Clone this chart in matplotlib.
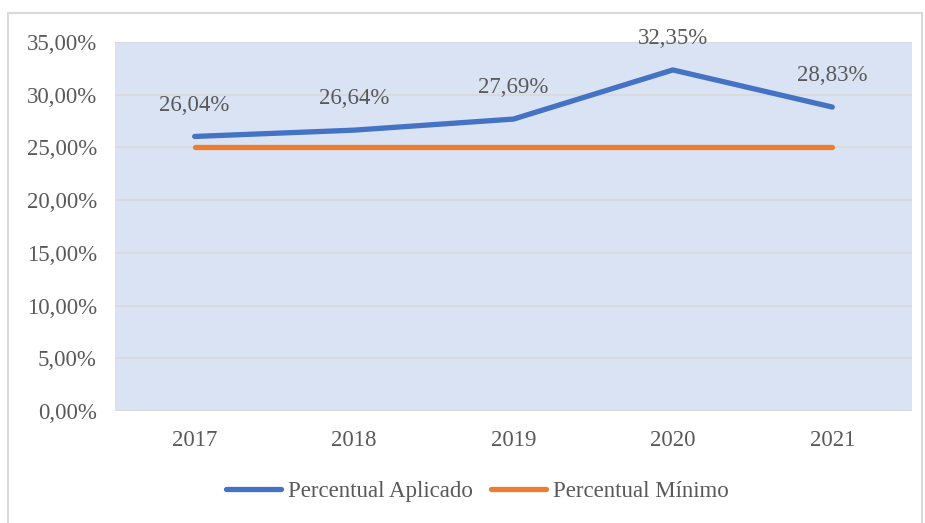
import matplotlib
matplotlib.use('Agg')
import matplotlib.pyplot as plt
from matplotlib.patches import Rectangle

anos = ['2017', '2018', '2019', '2020', '2021']
aplicado = [26.04, 26.64, 27.69, 32.35, 28.83]
minimo = [25.0, 25.0, 25.0, 25.0, 25.0]
yticks = [0, 5, 10, 15, 20, 25, 30, 35]

plt.rcParams['font.family'] = ['Liberation Serif', 'DejaVu Serif']
cinza = '#595959'

fig = plt.figure(figsize=(9.25, 5.23), dpi=100)
ax = fig.add_axes([0.1243, 0.2141, 0.8616, 0.7056])
ax.set_facecolor('#DAE3F3')

x = range(len(anos))
ax.plot(x, aplicado, color='#4472C4', lw=3.8, solid_capstyle='round',
        label='Percentual Aplicado', zorder=3)
ax.plot(x, minimo, color='#ED7D31', lw=3.8, solid_capstyle='round',
        label='Percentual Mínimo', zorder=3)

for i, v in enumerate(aplicado):
    ax.annotate(f'{v:.2f}%'.replace('.', ','), (i, v), xytext=(0, 15),
                textcoords='offset points', ha='center', va='bottom',
                fontsize=16.5, color=cinza)

ax.set_xlim(-0.5, len(anos) - 0.5)
ax.set_ylim(0, 35)
ax.set_xticks(list(x))
ax.set_xticklabels(anos)
ax.set_yticks(yticks)
ax.set_yticklabels([f'{t:.2f}%'.replace('.', ',') for t in yticks])
ax.tick_params(length=0, labelsize=16.5, labelcolor=cinza)
ax.tick_params(axis='x', pad=14)
ax.tick_params(axis='y', pad=13)
ax.grid(axis='y', color='#D9D9D9', lw=1.2)
ax.set_axisbelow(True)
for s in ax.spines.values():
    s.set_visible(False)
ax.axhline(0, color='#D9D9D9', lw=1.5, zorder=2)

leg = fig.legend(loc='center', bbox_to_anchor=(0.516, 0.061), ncol=2, frameon=False,
                 fontsize=16.5, handlelength=2.4, handletextpad=0.3, columnspacing=0.8)
for t in leg.get_texts():
    t.set_color(cinza)

fig.patches.append(Rectangle((8 / 925, -0.05), 914 / 925, 1.05 - 13 / 523,
                             transform=fig.transFigure, fill=False,
                             edgecolor='#D9D9D9', lw=1.5))

fig.savefig('out.png', dpi=100)
